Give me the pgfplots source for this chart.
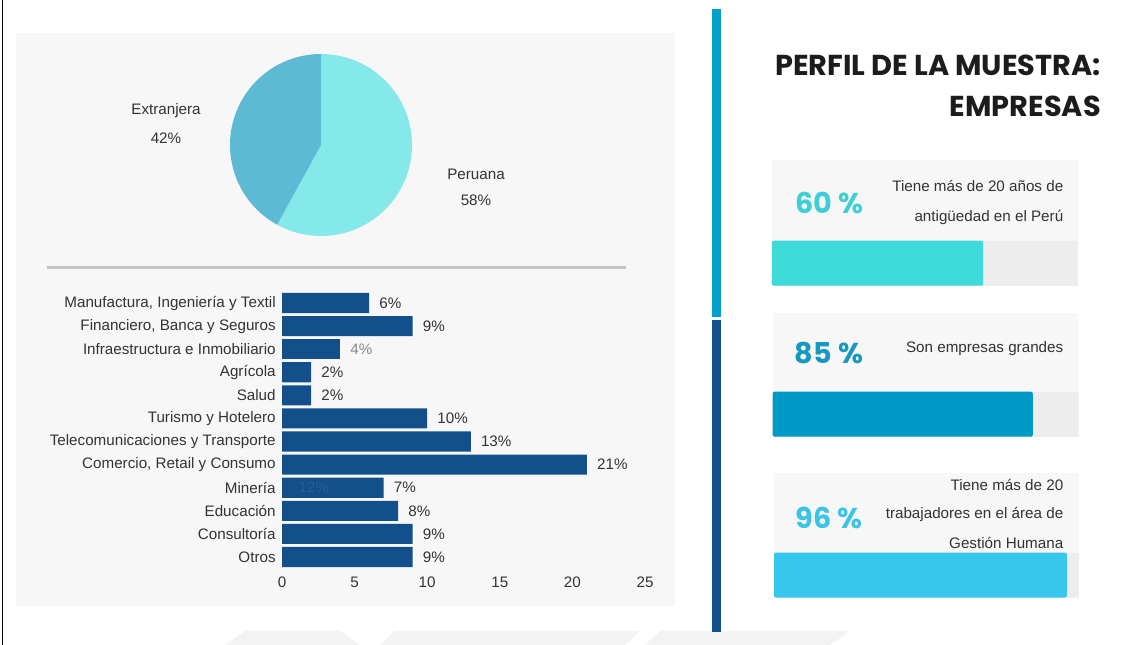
\documentclass[border=0pt]{standalone}
\usepackage{pgfplots}
\pgfplotsset{compat=1.18}
\usepackage{pgfplotstable}
\usepackage{fontspec}
\setmainfont{Liberation Sans}
\newfontfamily\popfont{Poppins}
\definecolor{panelbg}{HTML}{F7F7F7}
\definecolor{pieDark}{HTML}{5CBAD4}
\definecolor{pieLight}{HTML}{86E9E9}
\definecolor{sepline}{HTML}{C4C4C4}
\definecolor{barblue}{HTML}{134F8A}
\definecolor{txt}{HTML}{333333}
\definecolor{greytxt}{HTML}{8A8A8A}
\definecolor{faint}{HTML}{2C5D92}
\definecolor{vcyan}{HTML}{05A0C9}
\definecolor{vblue}{HTML}{11508A}
\definecolor{track}{HTML}{EDEDED}
\definecolor{fillA}{HTML}{3ED9D9}
\definecolor{fillB}{HTML}{009AC7}
\definecolor{fillC}{HTML}{37C6EC}
\definecolor{pctA}{HTML}{3CCFD6}
\definecolor{pctB}{HTML}{1698BF}
\definecolor{pctC}{HTML}{3BC3E8}
\definecolor{titletxt}{HTML}{1C1C1C}
\definecolor{wmark}{HTML}{F3F3F3}

% sectors: pos 11 = top row
\pgfplotstableread{
pos val
11 6
10 9
8 2
7 2
6 10
5 13
4 21
3 7
2 8
1 9
0 9
}\sectores
\pgfplotstableread{
pos val
9 4
}\sectoresgris
% pie: origin of the firms
\def\peruana{58}
\def\extranjera{42}
% progress bars (fill length)
\pgfplotstableread{
pos val
0 69
}\barA
\pgfplotstableread{
pos val
0 85
}\barB
\pgfplotstableread{
pos val
0 96
}\barC
\pgfplotstableread{
pos val
0 100
}\trackdata

\newcommand\fs{\fontsize{11.4}{13.7}\selectfont}
\newcommand\pctfont{\popfont\bfseries\fontsize{21.5}{25}\selectfont}
\newcommand\titfont{\popfont\bfseries\fontsize{21.6}{25}\selectfont}

\pgfplotsset{progress/.style={scale only axis, width=229.5pt, height=33.75pt,
  xmin=0, xmax=100, ymin=-0.5, ymax=0.5, hide axis, xbar, bar width=1,
  bar shift=0pt, anchor=north west}}

\begin{document}
\begin{tikzpicture}
\begin{scope}[x=0.75pt,y=-0.75pt]
\useasboundingbox (0,0) rectangle (1123,645);
\fill[white] (0,0) rectangle (1123,645);
% faint watermark shapes at the bottom
\fill[wmark] (225,645) -- (245,631) -- (340,631) -- (360,645) -- cycle;
\fill[wmark] (380,645) -- (395,631) -- (640,631) -- (625,645) -- cycle;
\fill[wmark] (645,645) -- (660,631) -- (850,631) -- (830,645) -- cycle;
\draw[black, line width=1.1pt] (2.5,0) -- (2.5,645);
\fill[panelbg] (16,33) rectangle (675,606);
\draw[sepline, line width=1.8pt] (47,267.3) -- (626,267.3);
\fill[vcyan] (711.7,9.3) rectangle (720.5,316.7);
\fill[vblue] (711.7,320) rectangle (720.5,631.7);
\fill[panelbg] (772,160) rectangle (1078,286);
\fill[panelbg] (772.7,313) rectangle (1078,437);
\fill[panelbg] (774,473) rectangle (1079,598);
\end{scope}

% ---- pie ----
\begin{axis}[at={({321*0.75pt},{-145*0.75pt})}, anchor=center, width=136.5pt, height=136.5pt,
  scale only axis, hide axis, xmin=-1, xmax=1, ymin=-1, ymax=1, clip=false]
\pgfmathsetmacro\angP{90-3.6*\peruana}
\pgfmathsetmacro\angE{\angP-3.6*\extranjera}
\fill[pieLight] (axis cs:0,0) -- (axis cs:0,1)
  arc[start angle=90, end angle=\angP, radius=68.25pt] -- cycle;
\fill[pieDark] (axis cs:0,0) -- (axis cs:{cos(\angP)},{sin(\angP)})
  arc[start angle=\angP, end angle=\angE, radius=68.25pt] -- cycle;
\end{axis}

% ---- sector bars ----
\begin{axis}[at={({282*0.75pt},{-291.45*0.75pt})}, anchor=north west, scale only axis,
  width=272.25pt, height=207.8pt,
  xbar, bar width=0.87, bar shift=0pt,
  xmin=0, xmax=25, ymin=-0.5, ymax=11.5,
  axis line style={draw=none}, tick style={draw=none},
  ytick={0,...,11},
  yticklabels={Otros, Consultoría, Educación, Minería,
    {Comercio, Retail y Consumo}, {Telecomunicaciones y Transporte},
    {Turismo y Hotelero}, Salud, Agrícola, {Infraestructura e Inmobiliario},
    {Financiero, Banca y Seguros}, {Manufactura, Ingeniería y Textil}},
  xtick={0,5,...,25},
  clip=false,
  tick label style={font=\fs, text=txt},
  yticklabel style={anchor=east, inner sep=0pt, xshift=-0.3pt},
  xticklabel style={anchor=north, inner sep=0pt, yshift=-6pt},
  /pgf/number format/assume math mode=true,
  point meta=x,
  nodes near coords={\pgfmathprintnumber{\pgfplotspointmeta}\%},
  every node near coord/.append style={font=\fs, anchor=west, inner sep=0pt, xshift=7.5pt},
]
\addplot[fill=barblue, draw=none, nodes near coords style={text=txt}]
  table[x=val, y=pos] {\sectores};
\addplot[fill=barblue, draw=none, nodes near coords style={text=greytxt}]
  table[x=val, y=pos] {\sectoresgris};
\node[font=\fs, text=faint] at (axis cs:2.2,3) {12\%};
\end{axis}

% ---- progress bars ----
\begin{axis}[progress, at={({772*0.75pt},{-240.7*0.75pt})}]
\addplot[fill=track, draw=none] table[x=val,y=pos] {\trackdata};
\addplot[fill=fillA, draw=none, rounded corners=1.5pt] table[x=val,y=pos] {\barA};
\end{axis}
\begin{axis}[progress, at={({772.7*0.75pt},{-391.7*0.75pt})}]
\addplot[fill=track, draw=none] table[x=val,y=pos] {\trackdata};
\addplot[fill=fillB, draw=none, rounded corners=1.5pt] table[x=val,y=pos] {\barB};
\end{axis}
\begin{axis}[progress, width=228.75pt, at={({774*0.75pt},{-552.5*0.75pt})}]
\addplot[fill=track, draw=none] table[x=val,y=pos] {\trackdata};
\addplot[fill=fillC, draw=none, rounded corners=1.5pt] table[x=val,y=pos] {\barC};
\end{axis}

\begin{scope}[x=0.75pt,y=-0.75pt]
\node[font=\fs, text=txt] at (166,111) {Extranjera};
\node[font=\fs, text=txt] at (166,138) {42\%};
\node[font=\fs, text=txt] at (476,174) {Peruana};
\node[font=\fs, text=txt] at (476,200) {58\%};

\node[font=\titfont, text=titletxt, anchor=base east, inner sep=0pt] at (1101,75.5) {PERFIL DE LA MUESTRA:};
\node[font=\titfont, text=titletxt, anchor=base east, inner sep=0pt] at (1101,117) {EMPRESAS};

\node[font=\pctfont, text=pctA, anchor=base, inner sep=0pt] at (829,213.5) {60 \%};
\node[font=\fs, text=txt, anchor=east, inner sep=0pt] at (1063.5,186) {Tiene más de 20 años de};
\node[font=\fs, text=txt, anchor=east, inner sep=0pt] at (1063.5,217) {antigüedad en el Perú};

\node[font=\pctfont, text=pctB, anchor=base, inner sep=0pt] at (829,363.5) {85 \%};
\node[font=\fs, text=txt, anchor=east, inner sep=0pt] at (1063.5,349) {Son empresas grandes};

\node[font=\pctfont, text=pctC, anchor=base, inner sep=0pt] at (829,528.5) {96 \%};
\node[font=\fs, text=txt, anchor=east, inner sep=0pt] at (1063.5,485) {Tiene más de 20};
\node[font=\fs, text=txt, anchor=east, inner sep=0pt] at (1063.5,514) {trabajadores en el área de};
\node[font=\fs, text=txt, anchor=east, inner sep=0pt] at (1063.5,543) {Gestión Humana};
\end{scope}
\end{tikzpicture}
\end{document}
